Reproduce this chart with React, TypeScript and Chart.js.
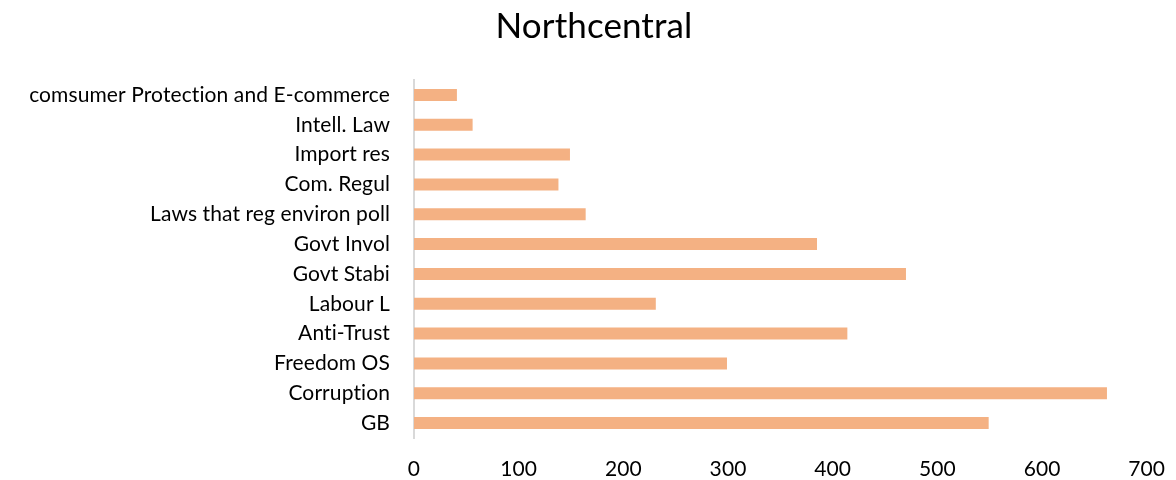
import React, { useEffect, useRef } from "react";
import { Chart, registerables } from "chart.js";

Chart.register(...registerables);

// Topics, listed top to bottom
const categories: string[] = [
  "comsumer Protection and E-commerce",
  "Intell. Law",
  "Import res",
  "Com. Regul",
  "Laws that reg environ poll",
  "Govt Invol",
  "Govt Stabi",
  "Labour L",
  "Anti-Trust",
  "Freedom OS",
  "Corruption",
  "GB",
];

const counts: number[] = [41, 56, 149, 138, 164, 385, 470, 231, 414, 299, 662, 549];

const xTicks: number[] = [0, 100, 200, 300, 400, 500, 600, 700];

const FONT = "Lato, 'Open Sans', sans-serif";

// A hair of letter spacing keeps "ti" from being drawn as a ligature
const noLigatures = {
  id: "noLigatures",
  beforeDraw(chart: any) {
    chart.ctx.letterSpacing = "0.1px";
  },
};

export default function App() {
  const canvasRef = useRef<HTMLCanvasElement | null>(null);

  useEffect(() => {
    const ctx = canvasRef.current;
    if (!ctx) return;
    const chart = new Chart(ctx, {
      type: "bar",
      data: {
        labels: categories,
        datasets: [
          {
            label: "Northcentral",
            data: counts,
            backgroundColor: "#F4B183",
            borderWidth: 0,
            barPercentage: 0.4,
            categoryPercentage: 1,
          },
        ],
      },
      plugins: [noLigatures],
      options: {
        indexAxis: "y",
        animation: false,
        responsive: true,
        maintainAspectRatio: false,
        layout: { padding: { left: 16, right: 4, top: 6, bottom: 0 } },
        plugins: {
          legend: { display: false },
          tooltip: { enabled: false },
          title: {
            display: true,
            text: "Northcentral",
            color: "#000",
            font: { family: FONT, size: 35, weight: "normal" },
            padding: { top: 0, bottom: 32 },
          },
        },
        scales: {
          x: {
            min: xTicks[0],
            max: xTicks[xTicks.length - 1],
            afterBuildTicks: (axis: any) => {
              axis.ticks = xTicks.map((v) => ({ value: v }));
            },
            afterFit: (axis: any) => {
              axis.height = 42;
              // let the last tick label hang a little further into the margin
              axis.paddingRight = Math.max(axis.paddingRight - 8, 0);
            },
            grid: { display: false, drawTicks: false },
            border: { display: false },
            ticks: {
              color: "#000",
              font: { family: FONT, size: 21 },
              padding: 19,
              maxRotation: 0,
            },
          },
          y: {
            afterFit: (axis: any) => {
              axis.width = 398;
            },
            grid: { display: false, drawTicks: false },
            border: { display: true, color: "#d9d9d9", width: 2 },
            ticks: {
              color: "#000",
              font: { family: FONT, size: 21 },
              padding: 24,
              autoSkip: false,
            },
          },
        },
      },
    });
    return () => chart.destroy();
  }, []);

  return (
    <div style={{ position: "fixed", left: 0, top: 0, width: 1176, height: 480, background: "#fff" }}>
      <canvas ref={canvasRef} />
    </div>
  );
}
